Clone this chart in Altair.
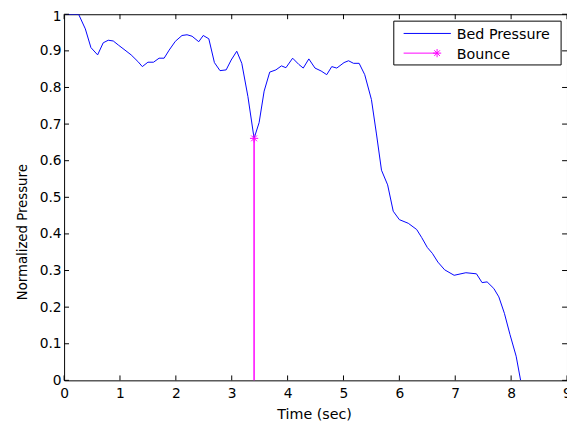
import altair as alt
import pandas as pd

# Bed pressure trace (time in s, normalized pressure)
time_s = [0.03, 0.26, 0.38, 0.48, 0.60, 0.70, 0.79, 0.88, 0.97, 1.09,
          1.20, 1.32, 1.40, 1.50, 1.60, 1.70, 1.79, 1.88, 1.99, 2.11,
          2.20, 2.29, 2.41, 2.49, 2.59, 2.69, 2.79, 2.90, 2.99, 3.09,
          3.18, 3.29, 3.40, 3.49, 3.58, 3.68, 3.79, 3.89, 3.97, 4.09,
          4.20, 4.28, 4.38, 4.49, 4.60, 4.70, 4.79, 4.88, 5.01, 5.09,
          5.18, 5.28, 5.38, 5.50, 5.59, 5.68, 5.79, 5.89, 6.00, 6.16,
          6.31, 6.40, 6.50, 6.59, 6.69, 6.81, 6.98, 7.19, 7.38, 7.48,
          7.57, 7.69, 7.78, 7.88, 7.98, 8.09, 8.17]
pressure = [1.000, 1.000, 0.960, 0.909, 0.889, 0.922, 0.929, 0.927, 0.916, 0.902,
            0.889, 0.871, 0.857, 0.869, 0.869, 0.880, 0.880, 0.902, 0.926, 0.942,
            0.944, 0.940, 0.925, 0.942, 0.933, 0.868, 0.846, 0.848, 0.875, 0.899,
            0.866, 0.775, 0.661, 0.704, 0.790, 0.842, 0.848, 0.859, 0.854, 0.880,
            0.863, 0.853, 0.878, 0.853, 0.845, 0.835, 0.857, 0.853, 0.868, 0.873,
            0.866, 0.866, 0.835, 0.767, 0.673, 0.574, 0.534, 0.462, 0.439, 0.429,
            0.412, 0.390, 0.363, 0.347, 0.323, 0.302, 0.287, 0.294, 0.291, 0.267,
            0.269, 0.251, 0.228, 0.183, 0.125, 0.066, 0.000]

bounce_time = [3.40]
bounce_value = [0.661]

x_ticks = [0, 1, 2, 3, 4, 5, 6, 7, 8, 9]
y_ticks = [0, 0.1, 0.2, 0.3, 0.4, 0.5, 0.6, 0.7, 0.8, 0.9, 1]

legend_labels = ["Bed Pressure", "Bounce"]
legend_colors = ["#0000ff", "#ff00ff"]

W, H = 511, 372
FONT = "DejaVu Sans"
ASTERISK = "M-1,0L1,0M0,-1L0,1M-0.7,-0.7L0.7,0.7M-0.7,0.7L0.7,-0.7"

df = pd.DataFrame({"t": time_s, "p": pressure})
bdf = pd.DataFrame({"t": bounce_time, "p": bounce_value})
xdf = pd.DataFrame({"t": x_ticks})
ydf = pd.DataFrame({"p": y_ticks})

xs = alt.Scale(domain=[0, 9], nice=False, zero=False)
ys = alt.Scale(domain=[0, 1], nice=False, zero=False)

x_axis = alt.Axis(values=x_ticks, format="d", title="Time (sec)", grid=False, ticks=False,
                  tickSize=0, domain=False, labelFont=FONT, labelFontSize=14, labelColor="black",
                  labelPadding=6, labelFlush=False, labelOverlap=False,
                  titleFont=FONT, titleFontSize=14.5, titleFontWeight="normal",
                  titleColor="black", titleX=254, titleY=38.5,
                  titleBaseline="alphabetic", titleAlign="center")
y_axis = alt.Axis(values=y_ticks, title="Normalized Pressure", grid=False, ticks=False,
                  tickSize=0, domain=False, labelFont=FONT, labelFontSize=14,
                  labelColor="black", labelPadding=3, labelFlush=False, labelOverlap=False,
                  labelOffset=alt.condition("datum.value == 1", alt.value(2.5), alt.value(0)),
                  labelExpr="datum.value == 0 ? '0' : datum.value == 1 ? '1' : format(datum.value, '.1f')",
                  titleFont=FONT, titleFontSize=13.5, titleFontWeight="normal",
                  titleColor="black", titleAngle=270, titleX=-38, titleY=221,
                  titleBaseline="alphabetic", titleAlign="center")

X = alt.X("t:Q", scale=xs, axis=x_axis)
Y = alt.Y("p:Q", scale=ys, axis=y_axis)

line = alt.Chart(df).mark_line(color="#0000ff", strokeWidth=1, clip=True).encode(x=X, y=Y)

bounce_rule = alt.Chart(bdf).mark_rule(color="#ff00ff", strokeWidth=1.5).encode(
    x=X, y=Y, y2=alt.datum(0))
bounce_pt = alt.Chart(bdf).mark_point(shape=ASTERISK, size=70, color="#ff00ff",
                                      filled=False, strokeWidth=1, opacity=1).encode(x=X, y=Y)

tick_len = 5
xt_bottom = alt.Chart(xdf).mark_rule(color="black", strokeWidth=1).encode(
    x=X, y=alt.value(H), y2=alt.value(H - tick_len))
xt_top = alt.Chart(xdf).mark_rule(color="black", strokeWidth=1).encode(
    x=X, y=alt.value(0), y2=alt.value(tick_len))
yt_left = alt.Chart(ydf).mark_rule(color="black", strokeWidth=1).encode(
    y=Y, x=alt.value(0), x2=alt.value(tick_len))
yt_right = alt.Chart(ydf).mark_rule(color="black", strokeWidth=1).encode(
    y=Y, x=alt.value(W), x2=alt.value(W - tick_len))

# manual legend (MATLAB style box)
leg_df = pd.DataFrame({"label": legend_labels, "color": legend_colors})
one = leg_df.head(1)
leg_box = alt.Chart(one).mark_rect(fill="white", stroke="black", strokeWidth=1).encode(
    x=alt.value(335), x2=alt.value(505), y=alt.value(7), y2=alt.value(51.5))
leg_line1 = alt.Chart(one).mark_rule(color=legend_colors[0], strokeWidth=1).encode(
    x=alt.value(345), x2=alt.value(393), y=alt.value(19.5))
leg_line2 = alt.Chart(one).mark_rule(color=legend_colors[1], strokeWidth=1).encode(
    x=alt.value(345), x2=alt.value(379), y=alt.value(39.5))
leg_mark2 = alt.Chart(one).mark_point(shape=ASTERISK, size=70, color=legend_colors[1],
                                      filled=False, strokeWidth=1, opacity=1).encode(
    x=alt.value(379), y=alt.value(39.5))
leg_text1 = alt.Chart(one).mark_text(align="left", baseline="alphabetic", font=FONT,
                                     fontSize=14.5, color="black").encode(
    x=alt.value(399), y=alt.value(25), text=alt.value(legend_labels[0]))
leg_text2 = alt.Chart(one).mark_text(align="left", baseline="alphabetic", font=FONT,
                                     fontSize=14.5, color="black").encode(
    x=alt.value(399), y=alt.value(45.3), text=alt.value(legend_labels[1]))

chart = alt.layer(
    line, bounce_rule, bounce_pt, xt_bottom, xt_top, yt_left, yt_right,
    leg_box, leg_line1, leg_line2, leg_mark2, leg_text1, leg_text2
).properties(
    width=W, height=H,
    autosize=alt.AutoSizeParams(type="none"),
    padding={"left": 57, "top": 3, "right": 0, "bottom": 42},
    background="white",
).configure_view(stroke="black", strokeWidth=1)

chart.save("out.html", embed_options={"renderer": "svg", "actions": False})
